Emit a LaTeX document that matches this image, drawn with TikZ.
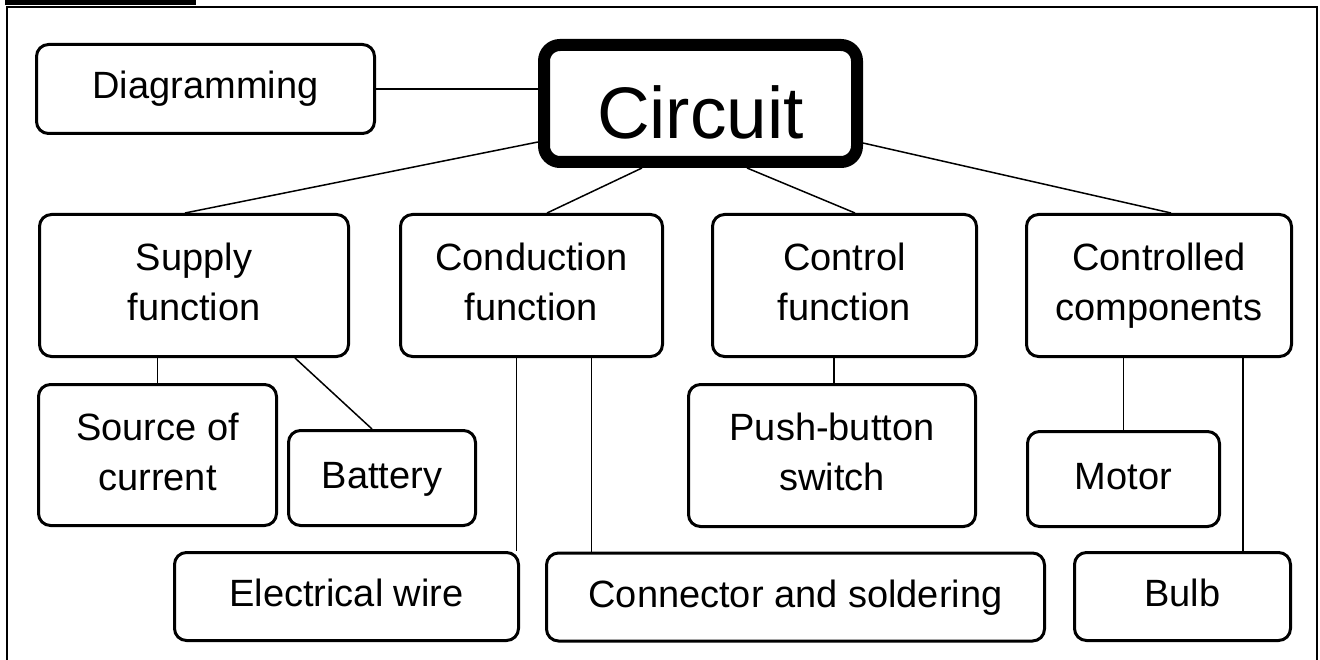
\documentclass[tikz,border=0pt]{standalone}
\usepackage{fontspec}
\setmainfont{Liberation Sans}
\usetikzlibrary{backgrounds}
\begin{document}
\begin{tikzpicture}[x=1pt,y=-1pt,
  box/.style={draw, line width=3pt, rounded corners=12pt, fill=white,
    inner sep=0pt, align=center, font=\fontsize{38}{50}\selectfont,
    execute at end node=\strut},
  hub/.style={draw, line width=12pt, rounded corners=16pt, fill=white,
    inner sep=0pt, font=\fontsize{73}{80}\selectfont,
    text height=70pt, text depth=0pt},
  link/.style={line width=1.5pt},
  frameline/.style={line width=2.6pt}]
\useasboundingbox (0,0) rectangle (1320,660);

% page frame with its header tab
\fill (5,0) rectangle (196,5);
\draw[frameline] (7,660) -- (7,7) -- (1317,7) -- (1317,660);

% central concept
\node[hub, minimum width=313pt, minimum height=117pt] (circuit) at (700.5,103.5) {Circuit};
\node[box, minimum width=338pt, minimum height=89pt] (diag) at (205.5,89) {Diagramming};

% functions
\node[box, minimum width=309pt, minimum height=142pt] (supply) at (194,285.5) {\strut Supply\\function};
\node[box, minimum width=262pt, minimum height=142pt] (conduction) at (531.5,285.5) {\strut Conduction\\function};
\node[box, minimum width=264pt, minimum height=142pt] (control) at (844.5,285.5) {\strut Control\\function};
\node[box, minimum width=265pt, minimum height=142pt] (controlled) at (1159,285.5) {\strut Controlled\\components};

% components
\node[box, minimum width=238pt, minimum height=141pt] (source) at (157.5,455) {\strut Source of\\current};
\node[box, minimum width=187pt, minimum height=95pt] (battery) at (382,478) {Battery};
\node[box, minimum width=287pt, minimum height=142pt] (push) at (832,455.5) {\strut Push-button\\switch};
\node[box, minimum width=192pt, minimum height=95pt] (motor) at (1123.5,479) {Motor};
\node[box, minimum width=344pt, minimum height=88pt] (wire) at (346.5,596.5) {Electrical wire};
\node[box, minimum width=498pt, minimum height=88pt] (connsold) at (795.5,597) {Connector and soldering};
\node[box, minimum width=216pt, minimum height=88pt] (bulb) at (1182.5,596.5) {Bulb};

\begin{scope}[on background layer]
  \draw[link] (diag.east) -- (diag.east -| circuit.west);
  \draw[link] ([yshift=-38.5pt]circuit.west) -- ([xshift=-9pt]supply.north);
  \draw[link] ([xshift=-58.5pt]circuit.south) -- ([xshift=15.5pt]conduction.north);
  \draw[link] ([xshift=46.5pt]circuit.south) -- ([xshift=10.5pt]control.north);
  \draw[link] ([yshift=-39.5pt]circuit.east) -- ([xshift=12pt]controlled.north);

  \draw[link] (source.north) -- (source.north |- supply.south);
  \draw[link] ([xshift=101pt]supply.south) -- ([xshift=-10pt]battery.north);

  \draw[link] ([xshift=-3.5pt]wire.north east) -- ([xshift=-3.5pt]wire.north east |- conduction.south);
  \draw[link] ([xshift=46.5pt]connsold.north west) -- ([xshift=46.5pt]connsold.north west |- conduction.south);

  \draw[link] ([xshift=2pt]push.north) -- ([xshift=2pt]push.north |- control.south);

  \draw[link] (motor.north) -- (motor.north |- controlled.south);
  \draw[link] ([xshift=60.5pt]bulb.north) -- ([xshift=60.5pt]bulb.north |- controlled.south);
\end{scope}
\end{tikzpicture}
\end{document}
